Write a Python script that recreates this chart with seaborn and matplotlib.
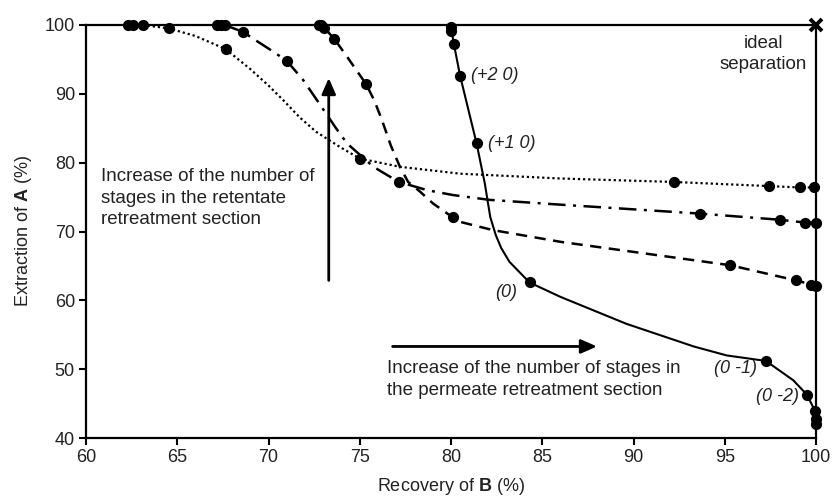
import matplotlib
matplotlib.use("Agg")
import matplotlib.pyplot as plt
import seaborn as sns
import pandas as pd

# --- data (recovery of B %, extraction of A %) ---
# marker positions per curve
dot_x = [62.3, 62.6, 63.1, 64.55, 67.65, 75.0, 92.2, 97.4, 99.1, 99.9]
dot_y = [100, 100, 100, 99.5, 96.5, 80.6, 77.2, 76.6, 76.4, 76.4]
dashdot_x = [67.15, 67.4, 67.6, 68.6, 71.0, 77.15, 93.65, 98.05, 99.4, 100]
dashdot_y = [100, 100, 100, 99.0, 94.8, 77.2, 72.6, 71.7, 71.3, 71.3]
dash_x = [72.75, 72.9, 73.05, 73.6, 75.35, 80.1, 95.3, 98.9, 99.75, 100]
dash_y = [100, 100, 99.6, 98.0, 91.4, 72.05, 65.1, 62.9, 62.3, 62.1]
solid_x = [80.0, 80.0, 80.15, 80.5, 81.4, 84.3, 97.25, 99.5, 99.95, 100, 100]
solid_y = [99.7, 99.1, 97.3, 92.6, 82.8, 62.6, 51.2, 46.3, 43.9, 42.8, 42.1]

# traced paths of the smoothed lines
dot_line_x = [63.1, 64.55, 66.0, 67.65, 69.0, 70.0, 70.8, 71.7, 72.6, 73.9, 75.0,
              77.2, 80.5, 86.0, 92.2, 97.4, 99.1, 99.9]
dot_line_y = [100, 99.5, 98.4, 96.5, 93.6, 91.2, 89.1, 86.6, 84.5, 82.3, 80.6,
              79.4, 78.4, 77.7, 77.2, 76.6, 76.4, 76.4]
dashdot_line_x = [67.6, 68.6, 69.4, 70.1, 71.0, 71.9, 72.65, 73.7, 74.3, 75.75, 76.5,
                  77.15, 78.7, 80.1, 82.1, 86.0, 93.65, 98.05, 99.4, 100]
dashdot_line_y = [100, 99.0, 97.6, 96.4, 94.8, 92.0, 89.1, 85.0, 82.8, 79.4, 78.2,
                  77.2, 76.0, 75.3, 74.6, 73.9, 72.6, 71.7, 71.3, 71.3]
dash_line_x = [73.05, 73.6, 74.3, 75.35, 75.8, 76.2, 76.7, 77.2, 77.65, 78.3, 79.0,
               80.1, 80.5, 82.3, 86.0, 95.3, 98.9, 99.75, 100]
dash_line_y = [99.6, 98.0, 95.4, 91.4, 89.0, 86.3, 82.5, 79.4, 77.2, 75.8, 74.1,
               72.05, 71.4, 70.2, 68.5, 65.1, 62.9, 62.3, 62.1]
solid_line_x = [80.0, 80.15, 80.5, 81.4, 81.85, 82.15, 82.45, 82.75, 83.2, 84.3, 86.0,
                89.6, 93.3, 95.1, 97.25, 98.75, 99.5, 99.95, 100, 100]
solid_line_y = [99.7, 97.3, 92.6, 82.8, 77.0, 72.1, 69.5, 67.6, 65.6, 62.6, 60.5,
                56.6, 53.3, 52.0, 51.2, 48.4, 46.3, 43.9, 42.8, 42.1]

x_ticks = [60, 65, 70, 75, 80, 85, 90, 95, 100]
y_ticks = [40, 50, 60, 70, 80, 90, 100]

sns.set_theme(style="white")
plt.rcParams["font.family"] = ["Liberation Sans", "DejaVu Sans"]
plt.rcParams["mathtext.fontset"] = "custom"
plt.rcParams["mathtext.rm"] = "Liberation Sans"
plt.rcParams["mathtext.bf"] = "Liberation Sans:bold"
plt.rcParams["mathtext.it"] = "Liberation Sans:italic"

TXT = "#222222"
FS = 13
FS_NOTE = 13.5

fig = plt.figure(figsize=(8.32, 4.99), dpi=100)
ax = fig.add_axes([0.1034, 0.1222, 0.8774, 0.8277])

lines = [
    (dot_line_x, dot_line_y, (0, (1, 1.3)), 1.6),
    (dashdot_line_x, dashdot_line_y, (0, (7, 3, 1.2, 3)), 1.8),
    (dash_line_x, dash_line_y, (0, (4.5, 3)), 1.8),
    (solid_line_x, solid_line_y, "-", 1.5),
]
for lx, ly, ls, lw in lines:
    d = pd.DataFrame({"x": lx, "y": ly})
    sns.lineplot(data=d, x="x", y="y", sort=False, estimator=None, color="black",
                 linestyle=ls, linewidth=lw, ax=ax)

markers = pd.DataFrame({
    "x": dot_x + dashdot_x + dash_x + solid_x,
    "y": dot_y + dashdot_y + dash_y + solid_y,
})
sns.scatterplot(data=markers, x="x", y="y", color="black", s=65, edgecolor="black",
                linewidth=0, ax=ax, zorder=5, clip_on=False)

# ideal separation corner
ax.plot([100], [100], marker="x", color="black", markersize=8, mew=2.8,
        clip_on=False, zorder=6)

ax.set_xlim(60, 100)
ax.set_ylim(40, 100)
ax.set_xticks(x_ticks)
ax.set_yticks(y_ticks)
ax.tick_params(axis="both", direction="out", length=5, width=1.5, color="black",
               labelsize=FS, labelcolor=TXT, pad=3)
ax.tick_params(axis="both", bottom=True, left=True)
for sp in ax.spines.values():
    sp.set_color("black")
    sp.set_linewidth(1.6)

ax.set_xlabel(r"Recovery of $\mathbf{B}$ (%)", fontsize=FS, color=TXT, labelpad=7)
ax.set_ylabel(r"Extraction of $\mathbf{A}$ (%)", fontsize=FS, color=TXT, labelpad=8)

# arrows
arrow = dict(arrowstyle="-|>,head_length=0.8,head_width=0.35", color="black", lw=2,
             shrinkA=0, shrinkB=0)
ax.annotate("", xy=(73.3, 92.3), xytext=(73.3, 62.9), arrowprops=arrow)
ax.annotate("", xy=(88.0, 53.3), xytext=(76.8, 53.3), arrowprops=arrow)

ax.text(60.8, 74.85, "Increase of the number of\nstages in the retentate\nretreatment section",
        ha="left", va="center", fontsize=FS_NOTE, color=TXT, linespacing=1.35)
ax.text(76.5, 48.5, "Increase of the number of stages in\nthe permeate retreatment section",
        ha="left", va="center", fontsize=FS_NOTE, color=TXT, linespacing=1.35)
ax.text(97.1, 95.85, "ideal\nseparation", ha="center", va="center", fontsize=FS_NOTE,
        color=TXT, linespacing=1.3)

# stage labels
ax.text(81.1, 92.6, "(+2 0)", ha="left", va="center", fontsize=FS, color=TXT, style="italic")
ax.text(82.0, 82.8, "(+1 0)", ha="left", va="center", fontsize=FS, color=TXT, style="italic")
ax.text(83.6, 61.2, "(0)", ha="right", va="center", fontsize=FS, color=TXT, style="italic")
ax.text(96.75, 50.1, "(0 -1)", ha="right", va="center", fontsize=FS, color=TXT, style="italic")
ax.text(99.05, 46.1, "(0 -2)", ha="right", va="center", fontsize=FS, color=TXT, style="italic")

fig.savefig("out.png", dpi=100)
